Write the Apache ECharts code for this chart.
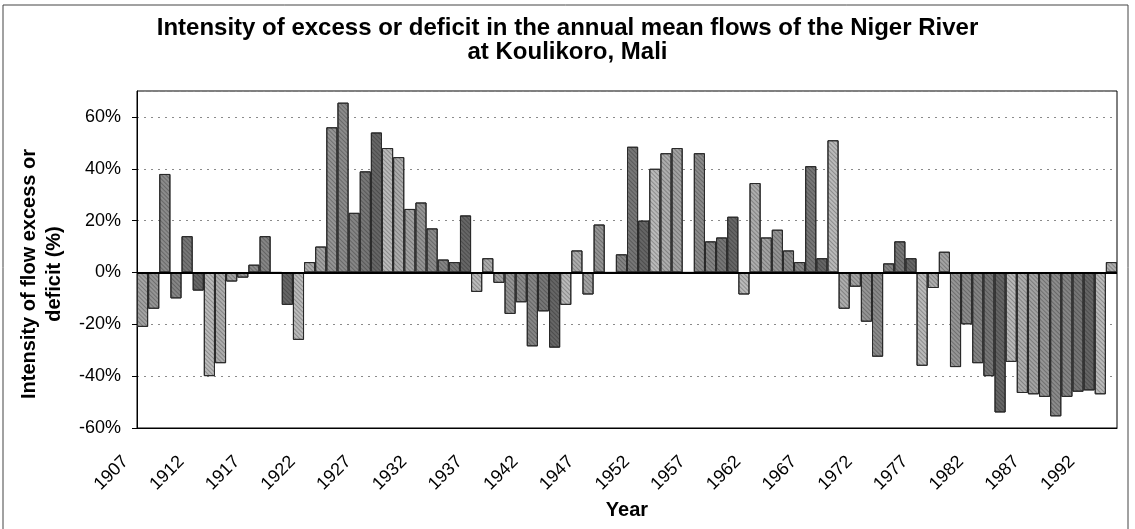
<!DOCTYPE html>
<html lang="en">
<head>
    <meta charset="UTF-8">
    <title>Niger River at Koulikoro</title>
    <script src="https://cdn.jsdelivr.net/npm/echarts@6/dist/echarts.min.js"></script>
    <style>
        html, body {
            margin: 0;
            padding: 0;
            background: #ffffff;
        }
        #chart {
            width: 1135px;
            height: 529px;
        }
    </style>
</head>
<body>
<div id="chart"></div>
<script>
    // years on the category axis
    var years = ['1907', '1908', '1909', '1910', '1911', '1912', '1913', '1914', '1915', '1916',
        '1917', '1918', '1919', '1920', '1921', '1922', '1923', '1924', '1925', '1926',
        '1927', '1928', '1929', '1930', '1931', '1932', '1933', '1934', '1935', '1936',
        '1937', '1938', '1939', '1940', '1941', '1942', '1943', '1944', '1945', '1946',
        '1947', '1948', '1949', '1950', '1951', '1952', '1953', '1954', '1955', '1956',
        '1957', '1958', '1959', '1960', '1961', '1962', '1963', '1964', '1965', '1966',
        '1967', '1968', '1969', '1970', '1971', '1972', '1973', '1974', '1975', '1976',
        '1977', '1978', '1979', '1980', '1981', '1982', '1983', '1984', '1985', '1986',
        '1987', '1988', '1989', '1990', '1991', '1992', '1993', '1994'];

    // excess (+) or deficit (-) of annual mean flow, in %
    var intensity = [-21, -14, 38, -10, 14, -7, -40, -35, -3.5, -2,
        3, 14, 0, -12.5, -26, 4, 10, 56, 65.5, 23,
        39, 54, 48, 44.5, 24.5, 27, 17, 5, 4, 22,
        -7.5, 5.5, -4, -16, -11.5, -28.5, -15, -29, -12.5, 8.5,
        -8.5, 18.5, 0, 7, 48.5, 20, 40, 46, 48, 0,
        46, 12, 13.5, 21.5, -8.5, 34.5, 13.5, 16.5, 8.5, 4,
        41, 5.5, 51, -14, -5.5, -19, -32.5, 3.5, 12, 5.5,
        -36, -6, 8, -36.5, -20, -35, -40, -54, -34.5, -46.5,
        -47, -48, -55.5, -48, -46, -45.5, -47, 4];

    var yTicks = [-60, -40, -20, 0, 20, 40, 60];

    // grey shades of the printed bars
    var greys = ['#a3a3a3', '#858585', '#bababa', '#959595', '#777777', '#adadad', '#8b8b8b', '#666666'];

    var font = "'Liberation Sans', Arial, sans-serif";

    var barData = [];
    for (var i = 0; i < intensity.length; i++) {
        barData.push({
            value: intensity[i],
            itemStyle: {color: greys[(i * 3) % greys.length]}
        });
    }

    var myChart = echarts.init(document.getElementById('chart'), null, {renderer: 'canvas'});
    var option = {
        backgroundColor: '#ffffff',
        animation: false,
        title: {
            text: 'Intensity of excess or deficit in the annual mean flows of the Niger River\nat Koulikoro, Mali',
            left: 'center',
            top: 11,
            textStyle: {
                fontFamily: font,
                fontSize: 24,
                fontWeight: 'bold',
                lineHeight: 24,
                color: '#000'
            }
        },
        grid: {
            left: 137,
            right: 18,
            top: 91,
            bottom: 101,
            show: true,
            borderColor: '#000',
            borderWidth: 1
        },
        graphic: [
            {
                type: 'rect',
                shape: {x: 3, y: 5, width: 1125, height: 540},
                style: {fill: 'none', stroke: '#444', lineWidth: 1},
                silent: true
            },
            {
                type: 'text',
                x: 42,
                y: 274,
                rotation: Math.PI / 2,
                style: {
                    text: 'Intensity of flow excess or\ndeficit (%)',
                    fontFamily: font,
                    fontSize: 20,
                    fontWeight: 'bold',
                    lineHeight: 25,
                    align: 'center',
                    verticalAlign: 'middle',
                    fill: '#000'
                }
            }
        ],
        xAxis: {
            type: 'category',
            data: years,
            name: 'Year',
            nameLocation: 'middle',
            nameGap: 72,
            nameTextStyle: {fontFamily: font, fontSize: 20, fontWeight: 'bold', color: '#000'},
            axisLine: {onZero: false, lineStyle: {color: '#000', width: 1}},
            axisTick: {show: false},
            axisLabel: {
                interval: 4,
                rotate: 45,
                margin: 14,
                padding: [0, 24, 0, 0],
                fontFamily: font,
                fontSize: 18,
                color: '#000'
            }
        },
        yAxis: {
            type: 'value',
            min: -60,
            max: 70,
            interval: 20,
            axisLine: {show: true, lineStyle: {color: '#000', width: 1}},
            axisTick: {show: true, inside: false, length: 5, lineStyle: {color: '#000'}},
            axisLabel: {
                showMaxLabel: false,
                margin: 16,
                fontFamily: font,
                fontSize: 18,
                color: '#000',
                formatter: function (v) {
                    return yTicks.indexOf(v) >= 0 ? v + '%' : '';
                }
            },
            splitLine: {
                show: true,
                lineStyle: {color: '#8a8a8a', width: 1, type: [2, 5]}
            }
        },
        series: [{
            name: 'Intensity',
            type: 'bar',
            data: barData,
            barCategoryGap: '0%',
            itemStyle: {
                borderColor: '#2a2a2a',
                borderWidth: 1,
                decal: {
                    symbol: 'rect',
                    symbolSize: 1,
                    dashArrayX: [1, 0],
                    dashArrayY: [1, 2],
                    rotation: Math.PI / 4,
                    color: 'rgba(0, 0, 0, 0.25)'
                }
            },
            markLine: {
                silent: true,
                symbol: 'none',
                label: {show: false},
                lineStyle: {color: '#000', width: 2, type: 'solid'},
                data: [{yAxis: 0}]
            }
        }]
    };
    myChart.setOption(option);
</script>
</body>
</html>
